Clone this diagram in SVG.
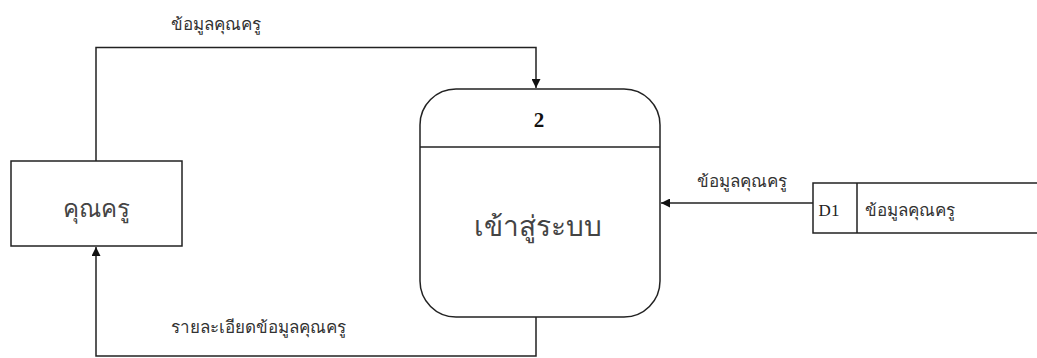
<svg xmlns="http://www.w3.org/2000/svg" width="1037" height="358" viewBox="0 0 1037 358">
<style>
.ln{fill:none;stroke:#222;stroke-width:1.5}
.sh{fill:#fff;stroke:#222;stroke-width:1.5}
.lbl{font-family:"Noto Sans","DejaVu Sans",sans-serif;font-size:17px;fill:#333}
.big{font-family:"Noto Sans","DejaVu Sans",sans-serif;fill:#444}
</style>
<defs>
<marker id="ah" viewBox="0 0 10 10" refX="10" refY="5" markerWidth="9" markerHeight="9" markerUnits="userSpaceOnUse" orient="auto">
<path d="M0,0 L10,5 L0,10 z" fill="#111"/>
</marker>
</defs>
<rect width="1037" height="358" fill="#fff"/>
<g id="connectors">
<path class="ln" d="M96,161 V47.5 H536 V88" marker-end="url(#ah)"/>
<path class="ln" d="M813,203 H661" marker-end="url(#ah)"/>
<path class="ln" d="M536,317 V356 H96 V247" marker-end="url(#ah)"/>
<text class="lbl" x="216" y="30" text-anchor="middle">ข้อมูลคุณครู</text>
<text class="lbl" x="742" y="187" text-anchor="middle">ข้อมูลคุณครู</text>
<text class="lbl" x="258" y="333" text-anchor="middle">รายละเอียดข้อมูลคุณครู</text>
</g>
<g id="teacher">
<rect class="sh" x="11" y="161" width="171" height="85"/>
<text class="big" x="96" y="217" font-size="24" text-anchor="middle">คุณครู</text>
</g>
<g id="process2">
<rect class="sh" x="420" y="89" width="240" height="228" rx="36" ry="36"/>
<line class="ln" x1="420" y1="147" x2="660" y2="147"/>
<text x="539" y="127" text-anchor="middle" font-family="Liberation Serif,serif" font-weight="bold" font-size="21" fill="#111">2</text>
<text class="big" x="538" y="236" font-size="28" text-anchor="middle">เข้าสู่ระบบ</text>
</g>
<g id="store-d1">
<path class="ln" d="M1037,183 H813 V233 H1037 M857,183 V233"/>
<text x="829" y="216" text-anchor="middle" font-family="Liberation Serif,serif" font-size="17" fill="#222">D1</text>
<text class="lbl" x="865" y="216">ข้อมูลคุณครู</text>
</g>
</svg>
